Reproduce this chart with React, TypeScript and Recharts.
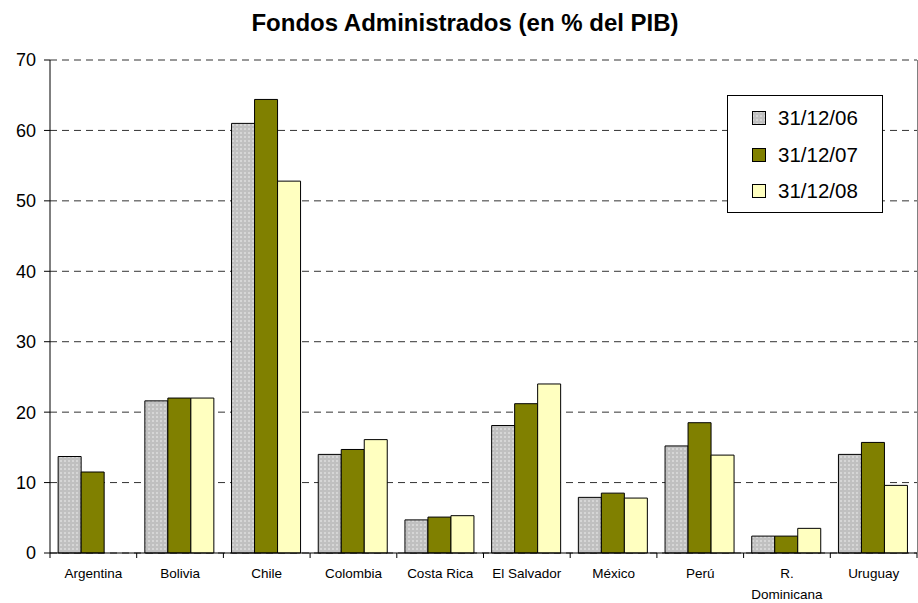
import React from "react";
import { BarChart, Bar, XAxis, YAxis, CartesianGrid } from "recharts";

// Países y series (en % del PIB)
const COUNTRIES = [
  "Argentina",
  "Bolivia",
  "Chile",
  "Colombia",
  "Costa Rica",
  "El Salvador",
  "México",
  "Perú",
  "R. Dominicana",
  "Uruguay",
];
const DIC_06 = [13.7, 21.6, 61.0, 14.0, 4.7, 18.1, 7.9, 15.2, 2.4, 14.0];
const DIC_07 = [11.5, 22.0, 64.4, 14.7, 5.1, 21.2, 8.5, 18.5, 2.4, 15.7];
const DIC_08 = [null, 22.0, 52.8, 16.1, 5.3, 24.0, 7.8, 13.9, 3.5, 9.6];
const SERIES_NAMES = ["31/12/06", "31/12/07", "31/12/08"];
const Y_TICKS = [0, 10, 20, 30, 40, 50, 60, 70];

const data = COUNTRIES.map((c, i) => ({
  country: c,
  s06: DIC_06[i],
  s07: DIC_07[i],
  s08: DIC_08[i],
}));

const FONT = "Arial, 'Liberation Sans', sans-serif";
const W = 918;
const H = 603;
const LEFT = 50;
const RIGHT = 917;
const TOP = 60;
const BOTTOM = 553;
const BAND = (RIGHT - LEFT) / COUNTRIES.length;

const CountryTick = (props: any) => {
  const { x, payload, index } = props;
  const label: string = payload.value;
  const lines = label === "R. Dominicana" ? ["R.", "Dominicana"] : [label];
  const left = x - BAND / 2;
  return (
    <g>
      <line x1={left} x2={left} y1={BOTTOM} y2={BOTTOM + 5} stroke="#000" />
      {index === COUNTRIES.length - 1 && (
        <line
          x1={x + BAND / 2}
          x2={x + BAND / 2}
          y1={BOTTOM}
          y2={BOTTOM + 5}
          stroke="#000"
        />
      )}
      <text
        x={x}
        y={BOTTOM + 25}
        textAnchor="middle"
        fontSize={13.5}
        fontFamily={FONT}
        fill="#000"
      >
        {lines.map((l, k) => (
          <tspan key={k} x={x} dy={k === 0 ? 0 : 21}>
            {l}
          </tspan>
        ))}
      </text>
    </g>
  );
};

const Swatch = ({ i }: { i: number }) => {
  const fills = ["url(#dotsLeg)", "#808000", "#FFFFC0"];
  return (
    <svg width={14} height={14} style={{ display: "block" }}>
      <defs>
        <pattern id="dotsLeg" width="4" height="4" patternUnits="userSpaceOnUse">
          <rect width="4" height="4" fill="#C0C0C0" />
          <circle cx="1" cy="1" r="0.7" fill="#fff" />
        </pattern>
      </defs>
      <rect x={0.5} y={0.5} width={13} height={13} fill={fills[i]} stroke="#000" />
    </svg>
  );
};

const LegendBox = () => (
  <div
    style={{
      position: "absolute",
      left: 727,
      top: 95,
      width: 156,
      height: 118,
      border: "1px solid #000",
      background: "#fff",
      boxSizing: "border-box",
      padding: "4px 0 0 24px",
      fontFamily: FONT,
      fontSize: 20.5,
    }}
  >
    {SERIES_NAMES.map((n, i) => (
      <div
        key={n}
        style={{ display: "flex", alignItems: "center", height: 36.5 }}
      >
        <Swatch i={i} />
        <span style={{ marginLeft: 12 }}>{n}</span>
      </div>
    ))}
  </div>
);

export default function App() {
  return (
    <div
      style={{
        position: "absolute",
        left: 0,
        top: 0,
        width: W,
        height: H,
        background: "#fff",
      }}
    >
      <div
        style={{
          position: "absolute",
          top: 9,
          left: 0,
          width: W,
          textAlign: "center",
          fontFamily: FONT,
          fontWeight: "bold",
          fontSize: 24,
          paddingLeft: 12,
          boxSizing: "border-box",
        }}
      >
        Fondos Administrados (en % del PIB)
      </div>
      <BarChart
        width={W}
        height={H}
        data={data}
        margin={{ top: TOP, right: W - RIGHT, left: 0, bottom: 0 }}
        barCategoryGap="9.4%"
        barGap={0}
      >
        <defs>
          <pattern id="dots" width="4" height="4" patternUnits="userSpaceOnUse">
            <rect width="4" height="4" fill="#C0C0C0" />
            <circle cx="1" cy="1" r="0.7" fill="#fff" />
          </pattern>
        </defs>
        <CartesianGrid
          horizontal
          vertical={false}
          stroke="#333"
          strokeDasharray="7 5"
        />
        <XAxis
          dataKey="country"
          height={H - BOTTOM}
          interval={0}
          tickLine={false}
          axisLine={{ stroke: "#000" }}
          tick={<CountryTick />}
        />
        <YAxis
          width={LEFT}
          domain={[0, 70]}
          ticks={Y_TICKS}
          interval={0}
          axisLine={{ stroke: "#000" }}
          tickLine={{ stroke: "#000" }}
          tickSize={6}
          tickMargin={8}
          tick={{ fontSize: 18, fontFamily: FONT, fill: "#000" }}
        />
        <Bar
          dataKey="s06"
          name={SERIES_NAMES[0]}
          fill="url(#dots)"
          stroke="#000"
          strokeWidth={1}
          isAnimationActive={false}
        />
        <Bar
          dataKey="s07"
          name={SERIES_NAMES[1]}
          fill="#808000"
          stroke="#000"
          strokeWidth={1}
          isAnimationActive={false}
        />
        <Bar
          dataKey="s08"
          name={SERIES_NAMES[2]}
          fill="#FFFFC0"
          stroke="#000"
          strokeWidth={1}
          isAnimationActive={false}
        />
      </BarChart>
      <div
        style={{
          position: "absolute",
          left: RIGHT,
          top: TOP,
          width: 1,
          height: BOTTOM - TOP,
          background: "#808080",
        }}
      />
      <LegendBox />
    </div>
  );
}
